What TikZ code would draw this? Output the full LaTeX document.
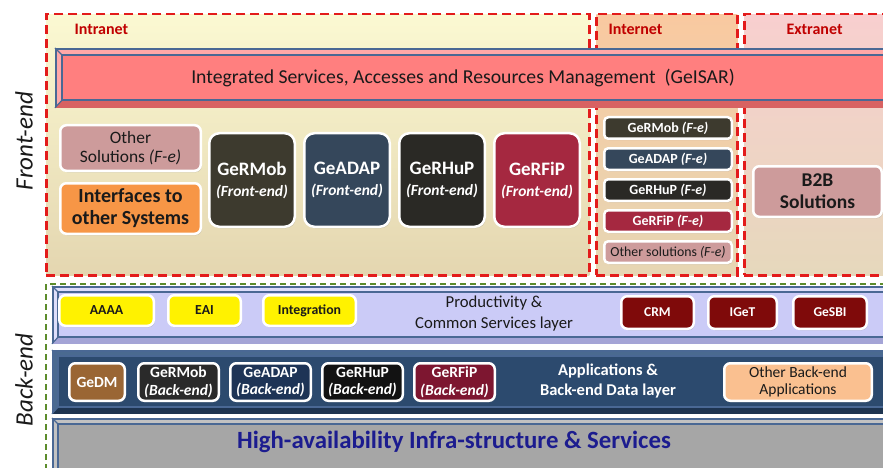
\documentclass[tikz,border=0pt]{standalone}
\usepackage{fontspec}
\setmainfont{Carlito}
\usepackage{xcolor}
\usepackage{tikz}
\usetikzlibrary{positioning, calc, shadows}
\definecolor{zonered}{HTML}{E31B1B}
\definecolor{zonegreen}{HTML}{5C8C2C}
\definecolor{labelred}{HTML}{C00000}
\definecolor{intranettop}{HTML}{FBF9D2}
\definecolor{intranetbot}{HTML}{E4D6B0}
\definecolor{internettop}{HTML}{F9C9A0}
\definecolor{internetbot}{HTML}{E6D6B4}
\definecolor{extranettop}{HTML}{F8CFCF}
\definecolor{extranetbot}{HTML}{E6D8BC}
\definecolor{barblue}{HTML}{4A6894}
\definecolor{isarbase}{HTML}{FF7F7F}
\definecolor{isarlight}{HTML}{FFA8A8}
\definecolor{isardark}{HTML}{D86262}
\definecolor{prodbase}{HTML}{CBCBF7}
\definecolor{prodlight}{HTML}{DEDEFA}
\definecolor{proddark}{HTML}{A4A4D6}
\definecolor{appsbase}{HTML}{2C4A6E}
\definecolor{appslight}{HTML}{4A6A90}
\definecolor{appsdark}{HTML}{1E3450}
\definecolor{habase}{HTML}{A6A6A6}
\definecolor{halight}{HTML}{C2C2C2}
\definecolor{hadark}{HTML}{8A8A8A}
\definecolor{hatext}{HTML}{1C1C8F}
\definecolor{othersol}{HTML}{CD9B9B}
\definecolor{interf}{HTML}{F79646}
\definecolor{mobcol}{HTML}{3D3A2E}
\definecolor{adapcol}{HTML}{35475B}
\definecolor{hupcol}{HTML}{2A2925}
\definecolor{fipcol}{HTML}{A52840}
\definecolor{gedmcol}{HTML}{9A6634}
\definecolor{mobback}{HTML}{2A2A2A}
\definecolor{adapback}{HTML}{1E3456}
\definecolor{hupback}{HTML}{121212}
\definecolor{fipback}{HTML}{7D1630}
\definecolor{svccol}{HTML}{7F0A0A}
\definecolor{otherback}{HTML}{FAC090}
\definecolor{textdark}{HTML}{1A1A1A}
\tikzset{
  zone_box/.style={draw=zonered, dash pattern=on 9pt off 5pt, line width=2.5pt, minimum height=261pt, anchor=north west, inner sep=0pt},
  zone_label/.style={font=\fontsize{16}{18}\selectfont\bfseries, text=labelred, anchor=west},
  side_label/.style={font=\fontsize{25}{28}\selectfont\itshape, text=textdark, rotate=90},
  bar_outer/.style={draw=barblue, line width=1.8pt, anchor=north west, inner sep=0pt, minimum width=848pt},
  bar_inner/.style={draw=barblue, line width=1.2pt, anchor=north west, inner sep=0pt, minimum width=836pt},
  bar_line/.style={draw=barblue, line width=1.2pt},
  app_box/.style={rounded corners=6pt, draw=white, line width=2.5pt, inner sep=1pt, align=center, anchor=north west,
    drop shadow={shadow xshift=1pt, shadow yshift=-1.5pt, opacity=0.3}},
  front_box/.style={app_box, rounded corners=10pt, text=white, minimum width=85.5pt, minimum height=93.5pt, font=\fontsize{19}{21}\selectfont\bfseries},
  net_box/.style={app_box, rounded corners=4pt, text=white, minimum width=127.5pt, minimum height=21.5pt, font=\fontsize{14}{16}\selectfont\bfseries},
  prod_box/.style={app_box, minimum height=30.5pt, text=textdark, fill=yellow, font=\fontsize{13.8}{16}\selectfont\bfseries},
  svc_box/.style={app_box, minimum height=32.5pt, text=white, fill=svccol, font=\fontsize{13.5}{16}\selectfont\bfseries},
  back_box/.style={app_box, minimum width=80.5pt, minimum height=37.5pt, text=white, font=\fontsize{15.5}{17.5}\selectfont\bfseries}
}

\begin{document}
\begin{tikzpicture}[x=1pt, y=-1pt]
\clip (0,0) rectangle (883,468);
\fill[white] (0,0) rectangle (883,468);
% zones
\node[zone_box, top color=intranettop, bottom color=intranetbot, minimum width=543pt] (intranet_zone) at (45,13) {};
\node[zone_box, top color=internettop, bottom color=internetbot, minimum width=141pt] (internet_zone) at (595,13) {};
\node[zone_box, top color=extranettop, bottom color=extranetbot, minimum width=160pt] (extranet_zone) at (743,13) {};
\node[zone_label] (intranet_label) at (71,29) {Intranet};
\node[zone_label] (internet_label) at (605,29) {Internet};
\node[zone_label] (extranet_label) at (783,29) {Extranet};
\draw[zonegreen, line width=1.5pt, dash pattern=on 6pt off 4pt] (46,480) -- (46,284) -- (900,284);
\node[side_label] (front_end_label) at (24,141) {Front-end};
\node[side_label] (back_end_label) at (24,380) {Back-end};
% GeISAR bar
\node[bar_outer, fill=isarlight, minimum height=58pt] (isar_outer) at (55,48) {};
\node[bar_inner, fill=isarbase, minimum height=44pt] (isar_inner) at ($(isar_outer.north west)+(7,7)$) {};
\fill[isardark] (isar_outer.south west) -- (isar_inner.south west) -- (isar_inner.south east) -- (isar_outer.south east) -- cycle;
\draw[bar_line] (isar_outer.north west) -- (isar_inner.north west);
\draw[bar_line] (isar_outer.south west) -- (isar_inner.south west);
\draw[bar_line] (isar_inner.north west) rectangle (isar_inner.south east);
\node[font=\fontsize{19.7}{22}\selectfont, text=textdark] (isar_label) at (463,78) {Integrated Services, Accesses and Resources Management~~(GeISAR)};
% intranet front-end
\node[app_box, fill=othersol, text=textdark, minimum width=140.5pt, minimum height=45.5pt, font=\fontsize{17.4}{19}\selectfont] (other_sol_node) at (59,124) {Other\\Solutions \textit{(F-e)}};
\node[app_box, fill=interf, text=textdark, minimum width=140.5pt, minimum height=50.5pt, font=\fontsize{20}{22}\selectfont\bfseries, below=10pt of other_sol_node.south west, anchor=north west] (interfaces_node) {Interfaces to\\other Systems};
\node[front_box, fill=mobcol] (germob_front_node) at (208,132) {GeRMob\\{\fontsize{15.5}{19}\selectfont\itshape (Front-end)}};
\node[front_box, fill=adapcol, right=7pt of germob_front_node] (geadap_front_node) {GeADAP\\{\fontsize{15.5}{19}\selectfont\itshape (Front-end)}};
\node[front_box, fill=hupcol, right=7pt of geadap_front_node] (gerhup_front_node) {GeRHuP\\{\fontsize{15.5}{19}\selectfont\itshape (Front-end)}};
\node[front_box, fill=fipcol, right=7pt of gerhup_front_node] (gerfip_front_node) {GeRFiP\\{\fontsize{15.5}{19}\selectfont\itshape (Front-end)}};
% internet front-end
\node[net_box, fill=mobcol] (germob_net_node) at (603,116) {GeRMob \textit{(F-e)}};
\node[net_box, fill=adapcol, below=7pt of germob_net_node] (geadap_net_node) {GeADAP \textit{(F-e)}};
\node[net_box, fill=hupcol, below=7pt of geadap_net_node] (gerhup_net_node) {GeRHuP \textit{(F-e)}};
\node[net_box, fill=fipcol, below=7pt of gerhup_net_node] (gerfip_net_node) {GeRFiP \textit{(F-e)}};
\node[net_box, fill=othersol, text=textdark, font=\fontsize{13.8}{15}\selectfont, below=7pt of gerfip_net_node] (other_net_node) {Other solutions \textit{(F-e)}};
% extranet
\node[app_box, fill=othersol, text=textdark, minimum width=128.5pt, minimum height=50.5pt, font=\fontsize{19.5}{22}\selectfont\bfseries] (b2b_node) at (752,165) {B2B\\Solutions};
% productivity layer
\node[bar_outer, fill=prodlight, minimum height=56pt] (prod_outer) at (52,286) {};
\node[bar_inner, fill=prodbase, minimum height=44pt] (prod_inner) at ($(prod_outer.north west)+(6,6)$) {};
\fill[proddark] (prod_outer.south west) -- (prod_inner.south west) -- (prod_inner.south east) -- (prod_outer.south east) -- cycle;
\draw[bar_line] (prod_outer.north west) -- (prod_inner.north west);
\draw[bar_line] (prod_outer.south west) -- (prod_inner.south west);
\draw[bar_line] (prod_inner.north west) rectangle (prod_inner.south east);
\node[font=\fontsize{16.7}{21}\selectfont, text=textdark, align=center] (prod_label) at (494,314) {Productivity \&\\Common Services layer};
\node[prod_box, minimum width=94.5pt] (aaaa_node) at (58,294) {AAAA};
\node[prod_box, minimum width=72.5pt] (eai_node) at (167,294) {EAI};
\node[prod_box, minimum width=92.5pt] (integration_node) at (262,294) {Integration};
\node[svc_box, minimum width=72.5pt] (crm_node) at (620,295) {CRM};
\node[svc_box, minimum width=68.5pt] (iget_node) at (707,295) {IGeT};
\node[svc_box, minimum width=73.5pt] (gesbi_node) at (792,295) {GeSBI};
% applications layer
\node[bar_outer, fill=appslight, minimum height=62pt] (apps_outer) at (52,350) {};
\node[bar_inner, fill=appsbase, minimum height=50pt] (apps_inner) at ($(apps_outer.north west)+(6,6)$) {};
\fill[appsdark] (apps_outer.south west) -- (apps_inner.south west) -- (apps_inner.south east) -- (apps_outer.south east) -- cycle;
\draw[bar_line] (apps_outer.north west) -- (apps_inner.north west);
\draw[bar_line] (apps_outer.south west) -- (apps_inner.south west);
\draw[bar_line] (apps_inner.north west) rectangle (apps_inner.south east);
\node[font=\fontsize{16.5}{20.5}\selectfont\bfseries, text=white, align=center] (apps_label) at (608,381) {Applications \&\\Back-end Data layer};
\node[back_box, fill=gedmcol, minimum width=55.5pt] (gedm_node) at (68,362) {GeDM};
\node[back_box, fill=mobback] (germob_back_node) at (137,362) {GeRMob\\\textit{(Back-end)}};
\node[back_box, fill=adapback, right=9pt of germob_back_node] (geadap_back_node) {GeADAP\\\textit{(Back-end)}};
\node[back_box, fill=hupback, right=9pt of geadap_back_node] (gerhup_back_node) {GeRHuP\\\textit{(Back-end)}};
\node[back_box, fill=fipback, right=9pt of gerhup_back_node] (gerfip_back_node) {GeRFiP\\\textit{(Back-end)}};
\node[back_box, fill=otherback, text=textdark, minimum width=147.5pt, font=\fontsize{15.5}{17.5}\selectfont] (other_back_node) at (723,362) {Other Back-end\\Applications};
% infrastructure layer
\node[bar_outer, fill=halight, minimum height=62pt] (ha_outer) at (52,418) {};
\node[bar_inner, fill=habase, minimum height=50pt] (ha_inner) at ($(ha_outer.north west)+(6,6)$) {};
\draw[bar_line] (ha_outer.north west) -- (ha_inner.north west);
\draw[bar_line] (ha_inner.north west) rectangle (ha_inner.south east);
\node[font=\fontsize{24.8}{28}\selectfont\bfseries, text=hatext] (ha_label) at (454,442) {High-availability Infra-structure \& Services};
\end{tikzpicture}
\end{document}
